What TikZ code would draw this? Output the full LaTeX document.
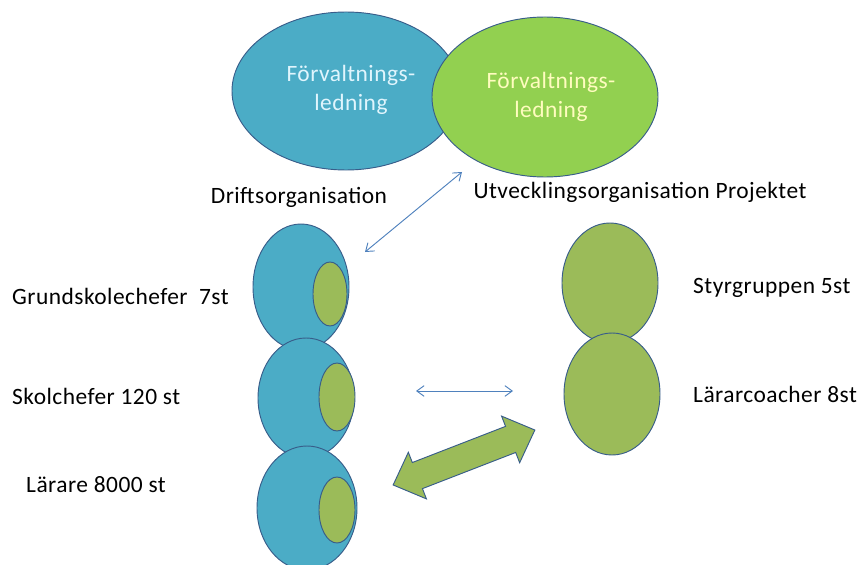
\documentclass[tikz,border=0pt]{standalone}
\usepackage{fontspec}
\setmainfont{Carlito}
\usetikzlibrary{arrows.meta,positioning,shapes.geometric}
\definecolor{aqua}{HTML}{4BACC6}
\definecolor{lgreen}{HTML}{92D050}
\definecolor{ogreen}{HTML}{9BBB59}
\definecolor{rim}{HTML}{385D8A}
\definecolor{arrblue}{HTML}{4F81BD}
\tikzset{
  unit/.style     = {ellipse, draw=rim, thick, inner sep=0pt},
  drift/.style    = {unit, fill=aqua},
  dev/.style      = {unit, fill=ogreen},
  lead/.style     = {align=center, inner sep=0pt, font=\fontsize{20}{25}\selectfont\addfontfeature{LetterSpace=2}},
  lbl/.style      = {font=\fontsize{20}{24}\selectfont\addfontfeature{LetterSpace=2}, inner sep=0pt},
  link/.style     = {{Straight Barb[length=2.2mm,width=3.2mm]}-{Straight Barb[length=2.2mm,width=3.2mm]},
                     arrblue, line width=0.8pt},
  swap/.style     = {draw=rim, thick, fill=ogreen, line join=miter},
}

\begin{document}
\begin{tikzpicture}[x=0.03cm,y=-0.03cm]
  \useasboundingbox (0,0) rectangle (864,565);
  \clip (0,0) rectangle (864,565);
  % management
  \node[unit, fill=aqua, minimum width=6.84cm, minimum height=4.74cm] (ledD) at (346,91) {};
  \node[unit, fill=lgreen, minimum width=6.78cm, minimum height=4.8cm] (ledU) at (545,97) {};
  \node[lead, text=cyan!12] (ledDt) at (351,90) {Förvaltnings-\\ledning};
  \node[lead, text=yellow!25] (ledUt) at (551,97) {Förvaltnings-\\ledning};
  \node[lbl] (drift) at (299,197) {Driftsorganisation};
  \node[lbl] (utv) at (640,192) {Utvecklingsorganisation Projektet};
  % operations column
  \node[drift, minimum width=2.88cm, minimum height=3.78cm] (gsc) at (301,287) {};
  \node[dev, minimum width=1.02cm, minimum height=1.92cm] (gscin) at (330,294) {};
  \node[drift, minimum width=2.88cm, minimum height=3.6cm] (sc) at (306,398) {};
  \node[dev, minimum width=1.08cm, minimum height=2.04cm] (scin) at (337,397) {};
  \node[drift, minimum width=3cm, minimum height=3.72cm] (lar) at (307,508) {};
  \node[dev, minimum width=1.08cm, minimum height=1.98cm] (larin) at (337,510) {};
  \node[lbl, anchor=west] (gsct) at (12,296) {Grundskolechefer~~7st};
  \node[lbl, anchor=west] (sct) at (12,396) {Skolchefer 120 st};
  \node[lbl, anchor=west] (lart) at (26,485) {Lärare 8000 st};
  % project column
  \node[dev, minimum width=2.88cm, minimum height=3.6cm] (styr) at (610,283) {};
  \node[dev, minimum width=2.88cm, minimum height=3.66cm] (coach) at (612,394) {};
  \node[lbl, anchor=west] (styrt) at (693,288) {Styrgruppen 5st};
  \node[lbl, anchor=west] (coacht) at (693,394) {Lärarcoacher 8st};
  % exchanges
  \coordinate (d1) at (365,252);
  \coordinate (d2) at (462,172);
  \coordinate (h1) at (416,391);
  \coordinate (h2) at (513,391);
  \draw[link] (d1) -- (d2);
  \draw[link] (h1) -- (h2);
  % block arrow
  \begin{scope}[shift={(464,457.5)}, rotate=21.2]
    \draw[swap] (76,0) -- (50,25) -- (50,14) -- (-50,14) -- (-50,25) -- (-76,0)
      -- (-50,-25) -- (-50,-14) -- (50,-14) -- (50,-25) -- cycle;
  \end{scope}
\end{tikzpicture}
\end{document}
